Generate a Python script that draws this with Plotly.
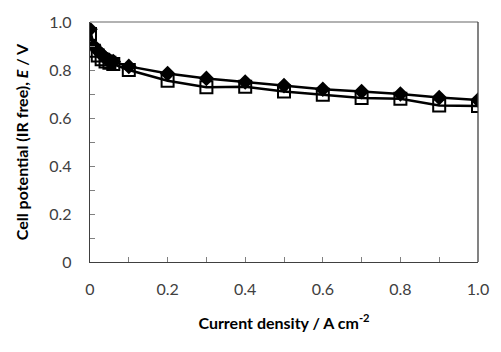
import plotly.graph_objects as go

current = [0, 0.01, 0.02, 0.03, 0.04, 0.05, 0.06, 0.1, 0.2, 0.3, 0.4, 0.5, 0.6, 0.7, 0.8, 0.9, 1.0]
e_diamond = [0.97, 0.90, 0.88, 0.865, 0.85, 0.84, 0.835, 0.815, 0.785, 0.765, 0.75, 0.735, 0.72, 0.71, 0.70, 0.685, 0.675]
e_square = [0.95, 0.88, 0.86, 0.845, 0.835, 0.83, 0.825, 0.80, 0.755, 0.728, 0.73, 0.71, 0.697, 0.683, 0.68, 0.652, 0.65]

tick_vals = [0, 0.2, 0.4, 0.6, 0.8, 1.0]
tick_text = ["0", "0.2", "0.4", "0.6", "0.8", "1.0"]

fig = go.Figure()
fig.add_trace(go.Scatter(
    x=current, y=e_square, mode="lines+markers",
    line=dict(color="black", width=2.5),
    marker=dict(symbol="square-open", size=12, color="black", line=dict(width=2, color="black")),
    showlegend=False,
))
fig.add_trace(go.Scatter(
    x=current, y=e_diamond, mode="lines+markers",
    line=dict(color="black", width=2.5),
    marker=dict(symbol="diamond", size=12, color="black"),
    showlegend=False,
))

font_family = "Lato, Open Sans, sans-serif"
axis_common = dict(
    range=[0, 1.0], tickvals=tick_vals, ticktext=tick_text,
    ticks="inside", ticklen=5, tickcolor="#808080", tickwidth=1,
    minor=dict(dtick=0.1, tick0=0, ticks="inside", ticklen=5, tickcolor="#808080", tickwidth=1),
    showline=True, linecolor="#404040", linewidth=1.3,
    showgrid=False, zeroline=False,
    tickfont=dict(family=font_family, size=16, color="#404040"),
)

fig.update_layout(
    width=501, height=352,
    margin=dict(l=90, r=18, t=19, b=90),
    plot_bgcolor="white", paper_bgcolor="white",
    xaxis=dict(**axis_common, ticklabelstandoff=13,
               title=dict(text="<b>Current density / A cm<sup>-2</sup></b>",
                          font=dict(family=font_family, size=16, color="black"), standoff=20)),
    yaxis=dict(**axis_common, ticklabelstandoff=14,
               title=dict(text="<b>Cell potential (IR free), <i>E</i> / V</b>",
                          font=dict(family=font_family, size=16, color="black"), standoff=16)),
    shapes=[
        dict(type="line", xref="paper", yref="paper", x0=0, x1=1, y0=1, y1=1,
             line=dict(color="#999999", width=1.5)),
        dict(type="line", xref="paper", yref="paper", x0=1, x1=1, y0=0, y1=1,
             line=dict(color="#404040", width=1.3)),
    ],
)

fig.write_html("out.html")
